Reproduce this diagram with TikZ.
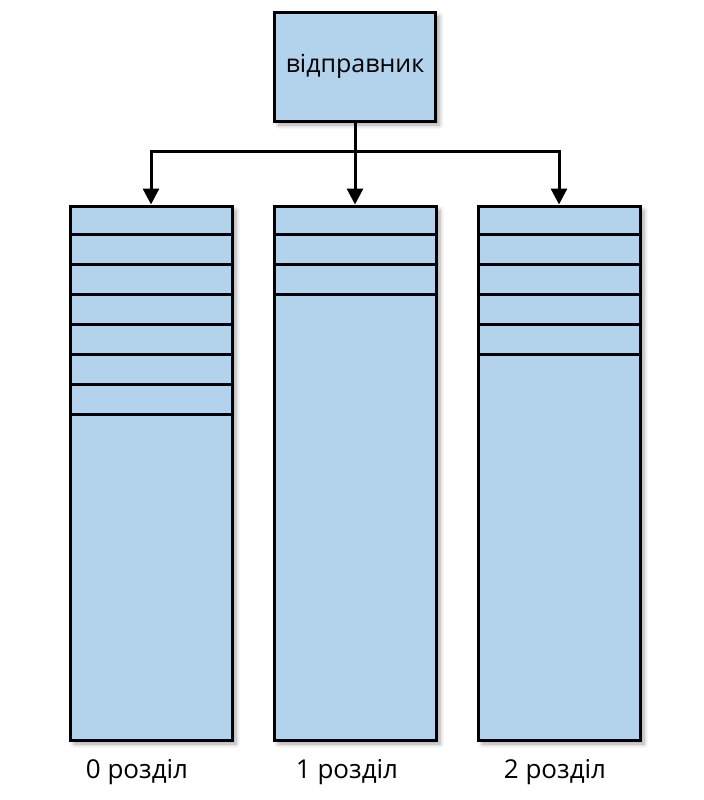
\documentclass[tikz,border=0pt]{standalone}
\usepackage{fontspec}
\setmainfont{Open Sans}
\usetikzlibrary{arrows.meta,shadows.blur}
\definecolor{boxblue}{RGB}{178,211,235}
\tikzset{
	box/.style={draw,line width=1.5pt,fill=boxblue,inner sep=0pt,
			blur shadow={shadow xshift=2pt,shadow yshift=-2pt,shadow blur steps=6,shadow opacity=35}},
	rowline/.style={line width=1.5pt},
	link/.style={line width=1.5pt,-{Triangle[length=8pt,width=8pt]}},
	caption/.style={font=\fontsize{13}{15}\selectfont}
}
\begin{document}
\begin{tikzpicture}[x=0.5pt,y=-0.5pt]
			\useasboundingbox (0,0) rectangle (704,800);
			\node[box,minimum width=80.5pt,minimum height=54.5pt,font=\fontsize{12.5}{15}\selectfont] (sender) at (355,66.5) {відправник};
			% partitions with their filled slots
			\foreach \i/\x/\n/\lx in {0/151/7/137,1/355/3/347,2/559/5/555}{
				\node[box,minimum width=81pt,minimum height=267pt] (part\i) at (\x,473) {};
				\foreach \k in {1,...,\n}
					\draw[rowline] ([yshift=-15*\k pt]part\i.north west) -- ([yshift=-15*\k pt]part\i.north east);
				\node[caption] (lab\i) at (\lx,772) {\i\ розділ};
			}
			\coordinate (bus) at (355,151);
			\draw[link] (sender.south) -- (part1.north);
			\draw[link] (bus) -| (part0.north);
			\draw[link] (bus) -| (part2.north);
		\end{tikzpicture}
\end{document}
